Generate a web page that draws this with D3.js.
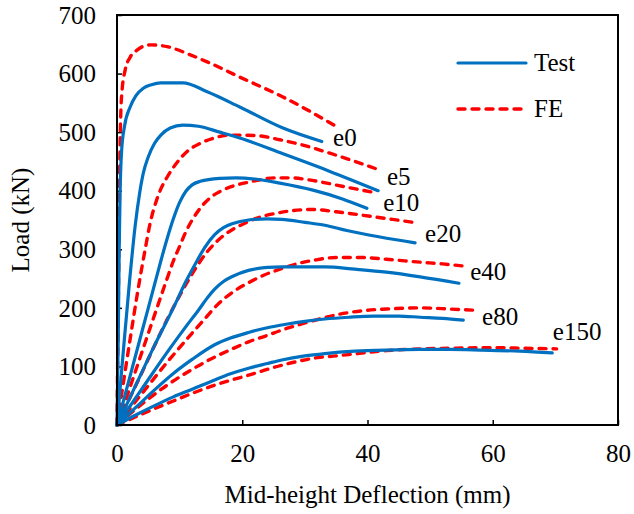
<!DOCTYPE html>
<html><head><meta charset="utf-8">
<script src="https://cdn.jsdelivr.net/npm/d3@7/dist/d3.min.js"></script>
<style>body{margin:0;background:#fff}svg{display:block}text{font-family:"Liberation Serif","Times New Roman",serif;fill:#000}</style>
</head><body><svg id="c" width="634" height="514"></svg>
<script>
const xTicks=[0,20,40,60,80];
const yTicks=[0,100,200,300,400,500,600,700];
const specimens=["e0","e5","e10","e20","e40","e80","e150"];
const testE0=[[0,0],[0.2,150],[0.35,300],[0.5,400],[0.75,470],[1.2,510],[2.1,543],[3,562],[4.2,575],[5.5,581],[7,584],[10.5,584],[14.4,569],[19.6,543],[26.5,507],[32.7,484]];
const feE0=[[0,0],[0.15,150],[0.3,300],[0.45,450],[0.6,530],[0.8,570],[1.3,606],[2.1,628],[3.2,640],[5.3,649],[8,646],[11.7,632],[14.4,620],[19.6,594],[26.5,560],[35,510]];
const testE5=[[0,0],[1,125],[2,245],[2.9,340],[3.6,395],[4.2,430],[5,458],[6,481],[7,495],[8.5,507],[10.5,512],[13,510],[16.4,500],[19.6,490],[26.5,463],[34,433],[41.7,400]];
const feE5=[[0,0],[2,140],[3.5,240],[4.5,300],[5.3,345],[6.2,380],[7,403],[8,423],[9.5,447],[11.2,467],[13.3,481],[15.5,490],[18,495],[22.3,494],[26,487],[30,477],[34,464],[38,450],[42,435]];
const testE10=[[0,0],[2,80],[4,160],[6,240],[7,280],[8,318],[9,352],[10,380],[11,399],[12,410],[13.3,416],[16.4,421],[19,422],[22,420],[26,413],[31.3,401],[36,386],[39.9,370]];
const feE10=[[0,0],[2,62],[4,125],[6,188],[8,250],[9,280],[10,305],[11,330],[12,350],[13,366],[14,379],[15,389],[16.5,399],[18,406],[21.2,415],[25.5,422],[28,422],[30.3,419],[36.7,406],[41.5,396]];
const testE20=[[0,0],[3,68],[6,136],[9,200],[11,245],[12.5,275],[14,303],[15.6,325],[17,337],[18.5,344],[21,350],[24,352],[26.3,351],[30,346],[33.2,341],[36.7,332],[42,321],[47.6,311]];
const feE20=[[0,0],[4,90],[8,180],[11,240],[13,275],[14.5,297],[15.8,312],[17.2,325],[18.8,336],[20.5,345],[22,352],[25.2,361],[28,366],[31.3,368],[35,364],[39.3,358],[44,351],[47.9,345]];
const testE40=[[0,0],[4,62],[8,124],[11,168],[13,196],[14.5,218],[15.6,232],[17,245],[18.5,254],[21,264],[24,269],[26.3,270],[33.2,270],[38,266],[43,261],[48.4,253],[54.6,242]];
const feE40=[[0,0],[4,54],[8,107],[12,157],[14,181],[16.1,206],[18.5,227],[21,243],[23.5,256],[26.3,267],[29,276],[31.3,281],[35,286],[38.8,286],[43,283],[48.4,278],[52,275],[55.6,271]];
const testE80=[[0,0],[3,30],[6,60],[9,88],[12,112],[15.6,137],[18,148],[21,158],[24,166],[27,172],[30,177],[33.2,181],[37,184],[41,186],[45,186],[48.4,184],[52,182],[55.3,179]];
const feE80=[[0,0],[4,36],[8,68],[12,95],[15.6,116],[18,128],[21,142],[24,153],[26.3,162],[29,171],[32,180],[35,188],[37.7,193],[40,196],[43,198],[48.4,200],[53.2,198],[56.9,196]];
const testE150=[[0,0],[3,17],[6,33],[9,48],[12,61],[15.6,77],[18,87],[21,97],[24,105],[26.3,111],[30,118],[33.2,122],[38,126],[43,128],[48.4,129],[53,129],[58,128],[64.3,126],[69.5,123]];
const feE150=[[0,0],[3,14],[6,28],[9,41],[12,54],[15.6,68],[18,76],[21,85],[24,95],[26.3,102],[29,109],[32,115],[35,118],[37.7,121],[43,127],[48.4,130],[53,131],[60,132],[65,131],[70.2,130]];
const testSeries=[testE0,testE5,testE10,testE20,testE40,testE80,testE150];
const feSeries=[feE0,feE5,feE10,feE20,feE40,feE80,feE150];
const labelPos=[[34.5,476],[43.1,409],[42.5,366],[49.2,313],[56.4,247],[58.3,171],[69.6,145]];
const legendNames=["Test","FE"];

const svg=d3.select("#c");
const L=117,R=618,T=15,B=425;
const FS="25px";
const x=d3.scaleLinear().domain([0,80]).range([L,R]);
const y=d3.scaleLinear().domain([0,700]).range([B,T]);
const line=d3.line().x(d=>x(d[0])).y(d=>y(d[1])).curve(d3.curveMonotoneX);
const blue="#0070C0",red="#FF0000";

// axes
const yAxis=d3.axisLeft(y).tickValues(yTicks).tickSize(-5).tickPadding(21).tickFormat(d3.format("d"));
const xAxis=d3.axisBottom(x).tickValues(xTicks).tickSize(-5).tickPadding(20).tickFormat(d3.format("d"));
const gy=svg.append("g").attr("transform",`translate(${L},0)`).call(yAxis);
const gx=svg.append("g").attr("transform",`translate(0,${B})`).call(xAxis);
[gx,gy].forEach(g=>{g.select(".domain").remove();g.selectAll("line").attr("stroke","#000").attr("stroke-width",1.5);
 g.selectAll("text").style("font-size",FS).attr("fill","#000").style("font-family","Liberation Serif");});
gy.selectAll("text").attr("dy","0.33em");
gx.selectAll("text").attr("dy","0.68em");

// series
feSeries.forEach(s=>svg.append("path").datum(s).attr("d",line).attr("fill","none").attr("stroke",red).attr("stroke-width",3.4).attr("stroke-dasharray","7,7").attr("stroke-linecap","round"));
testSeries.forEach(s=>svg.append("path").datum(s).attr("d",line).attr("fill","none").attr("stroke",blue).attr("stroke-width",3.2).attr("stroke-linecap","round"));

// frame
svg.append("rect").attr("x",L).attr("y",T).attr("width",R-L).attr("height",B-T).attr("fill","none").attr("stroke","#000").attr("stroke-width",2);

// labels
specimens.forEach((s,i)=>svg.append("text").attr("x",x(labelPos[i][0])).attr("y",y(labelPos[i][1])).style("font-size",FS).text(s));

// legend
const lg=svg.append("g");
[0,1].forEach(i=>{
 const ly=63+i*46;
 lg.append("line").attr("x1",458).attr("x2",526).attr("y1",ly).attr("y2",ly)
  .attr("stroke",i?red:blue).attr("stroke-width",i?3.4:3.2).attr("stroke-linecap","round")
  .attr("stroke-dasharray",i?"7,7":null);
 lg.append("text").attr("x",534).attr("y",ly+8).style("font-size",FS).text(legendNames[i]);
});

// axis titles
svg.append("text").attr("x",(L+R)/2).attr("y",503).attr("text-anchor","middle").style("font-size",FS).text("Mid-height Deflection (mm)");
svg.append("text").attr("transform",`translate(29,${(T+B)/2}) rotate(-90)`).attr("text-anchor","middle").style("font-size",FS).text("Load (kN)");
</script></body></html>
